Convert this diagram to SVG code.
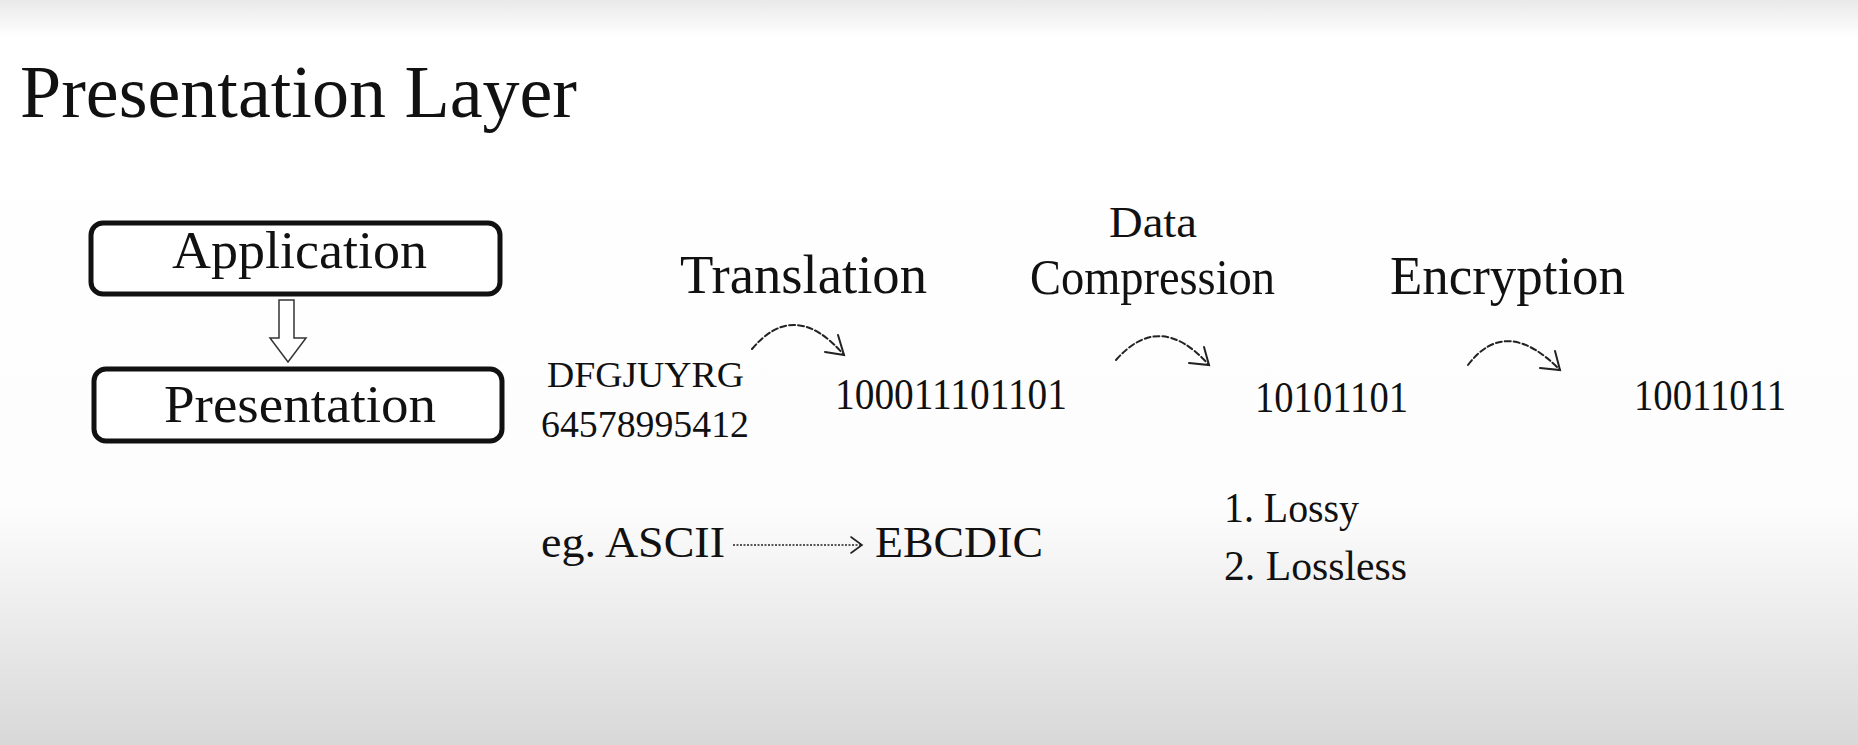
<svg xmlns="http://www.w3.org/2000/svg" width="1858" height="745" viewBox="0 0 1858 745">
<defs>
<linearGradient id="bg" x1="0" y1="0" x2="0" y2="1">
<stop offset="0" stop-color="#e9e9e9"/>
<stop offset="0.05" stop-color="#ffffff"/>
<stop offset="0.68" stop-color="#fdfdfd"/>
<stop offset="1" stop-color="#d8d8d8"/>
</linearGradient>
<style>
text{font-family:"Liberation Serif","DejaVu Serif",serif;fill:#111;}
.box{fill:#fff;stroke:#111;stroke-width:5;}
.curve{fill:none;stroke:#222;stroke-width:2;stroke-dasharray:6 3;stroke-linecap:round;}
.barb{fill:none;stroke:#222;stroke-width:2;stroke-linecap:round;}
.dot{fill:none;stroke:#222;stroke-width:1.6;stroke-dasharray:2 1.5;}
</style>
</defs>
<rect x="0" y="0" width="1858" height="745" fill="url(#bg)"/>
<text x="20" y="117" font-size="75" textLength="557" lengthAdjust="spacingAndGlyphs">Presentation Layer</text>

<g id="node-application">
<rect class="box" x="91" y="223" width="409" height="71" rx="12"/>
<text x="172" y="268" font-size="52" textLength="255" lengthAdjust="spacingAndGlyphs">Application</text>
</g>
<g id="node-presentation">
<rect class="box" x="94" y="369" width="408" height="72" rx="12"/>
<text x="164" y="422" font-size="52" textLength="272" lengthAdjust="spacingAndGlyphs">Presentation</text>
</g>

<g id="label-translation"><text x="680" y="293" font-size="54" textLength="247" lengthAdjust="spacingAndGlyphs">Translation</text></g>
<g id="label-compression">
<text x="1109" y="237" font-size="44" textLength="88" lengthAdjust="spacingAndGlyphs">Data</text>
<text x="1030" y="294" font-size="50" textLength="245" lengthAdjust="spacingAndGlyphs">Compression</text>
</g>
<g id="label-encryption"><text x="1390" y="294" font-size="54" textLength="235" lengthAdjust="spacingAndGlyphs">Encryption</text></g>

<g id="node-input">
<text x="547" y="387" font-size="36" textLength="197" lengthAdjust="spacingAndGlyphs">DFGJUYRG</text>
<text x="541" y="437" font-size="38" textLength="208" lengthAdjust="spacingAndGlyphs">64578995412</text>
</g>
<g id="node-bin1"><text x="835" y="409" font-size="45" textLength="232" lengthAdjust="spacingAndGlyphs">100011101101</text></g>
<g id="node-bin2"><text x="1255" y="412" font-size="45" textLength="153" lengthAdjust="spacingAndGlyphs">10101101</text></g>
<g id="node-bin3"><text x="1634" y="410" font-size="45" textLength="152" lengthAdjust="spacingAndGlyphs">10011011</text></g>

<g id="node-ascii"><text x="541" y="557" font-size="44" textLength="184" lengthAdjust="spacingAndGlyphs">eg. ASCII</text></g>
<g id="node-ebcdic"><text x="875" y="557" font-size="44" textLength="168" lengthAdjust="spacingAndGlyphs">EBCDIC</text></g>
<g id="node-types">
<text x="1224" y="522" font-size="42" textLength="135" lengthAdjust="spacingAndGlyphs">1. Lossy</text>
<text x="1224" y="580" font-size="42" textLength="183" lengthAdjust="spacingAndGlyphs">2. Lossless</text>
</g>

<g id="connectors">
<path d="M279 300 H294 V338 H306 L288 362 L270 338 H279 Z" fill="#fff" stroke="#333" stroke-width="1.5"/>
<path class="curve" d="M752 349 Q795 298 844 355"/>
<path class="barb" d="M825 352 L844 355 L838 335"/>
<path class="curve" d="M1116 360 Q1160 310 1209 365"/>
<path class="barb" d="M1189 363 L1209 365 L1204 347"/>
<path class="curve" d="M1468 365 Q1506 315 1560 370"/>
<path class="barb" d="M1540 368 L1560 370 L1555 351"/>
<path class="dot" d="M733 545 H861"/>
<path class="barb" style="stroke-width:1.6" d="M851 537 L862 545 L851 553"/>
</g>
</svg>
